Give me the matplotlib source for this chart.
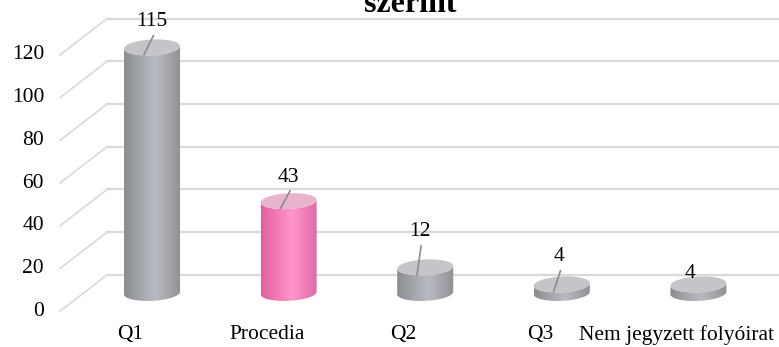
import numpy as np
import matplotlib.pyplot as plt
from matplotlib.path import Path
from matplotlib.patches import PathPatch
from matplotlib.colors import LinearSegmentedColormap

categories = ["Q1", "Procedia", "Q2", "Q3", "Nem jegyzett folyóirat"]
values = [115, 43, 12, 4, 4]
highlight = [False, True, False, False, False]
y_ticks = [0, 20, 40, 60, 80, 100, 120]

# label placement relative to the top of each cylinder (x in categories, y in values)
label_dx = [0.0, 0.0, -0.04, -0.02, -0.06]
label_dy = [12, 11.3, 16.6, 12.9, 4.9]

plt.rcParams['font.family'] = ['Liberation Serif', 'DejaVu Serif']

fig = plt.figure(figsize=(7.79, 3.47), dpi=100)
ax = fig.add_axes([0, 0, 1, 1])
ax.axis('off')

depth = 8.5        # half depth of the floor in value units
dx_back = -0.329   # x where back wall starts
dx_front = -0.673  # x where the front edge of the floor lines end
bar_w = 0.41
ell_h = 7.4
shear = 3.0
fs = 15.5

grid_c = '#d9d9d9'
for t in y_ticks:
    ax.plot([dx_front, dx_back], [t - depth, t + depth], color=grid_c, lw=1.2, zorder=1)
    ax.plot([dx_back, 4.59], [t + depth, t + depth], color=grid_c, lw=1.6, zorder=1)
    ax.text(-0.79, t - depth, str(t), ha='right', va='center', fontsize=fs)

gray_cmap = LinearSegmentedColormap.from_list(
    'gray_cyl', [(0, '#8a8c90'), (0.3, '#a4a7ad'), (0.55, '#b8bbc2'), (0.8, '#a2a4aa'), (1, '#8e9094')])
pink_cmap = LinearSegmentedColormap.from_list(
    'pink_cyl', [(0, '#df5f9c'), (0.3, '#f47db8'), (0.55, '#ff97cb'), (0.8, '#f17bb6'), (1, '#dd68a3')])

theta = np.linspace(np.pi, 2 * np.pi, 40)
full = np.linspace(0, 2 * np.pi, 80)

for i, (cat, v, hl) in enumerate(zip(categories, values, highlight)):
    rx = bar_w / 2
    ry = ell_h / 2
    # body outline: lower half of bottom ellipse, then lower half of top ellipse back
    bx = i + rx * np.cos(theta)
    by = ry * np.sin(theta) + shear * (bx - i)
    tx = (i + rx * np.cos(theta))[::-1]
    ty = v + ry * np.sin(theta)[::-1] + shear * (tx - i)
    verts = np.column_stack([np.concatenate([bx, tx]), np.concatenate([by, ty])])
    verts = np.vstack([verts, verts[:1]])
    codes = [Path.MOVETO] + [Path.LINETO] * (len(verts) - 2) + [Path.CLOSEPOLY]
    body = PathPatch(Path(verts, codes), facecolor='none', edgecolor='none')
    ax.add_patch(body)
    grad = np.linspace(0, 1, 256).reshape(1, -1)
    im = ax.imshow(grad, cmap=pink_cmap if hl else gray_cmap, aspect='auto',
                   extent=[i - rx, i + rx, -ry - shear * rx, v + ry + shear * rx],
                   zorder=3, interpolation='bilinear')
    im.set_clip_path(body)

    # top cap
    cx = i + rx * np.cos(full)
    cy = v + ry * np.sin(full) + shear * (cx - i)
    ax.fill(cx, cy, color='#e8b4cd' if hl else '#c4c5c8', zorder=4, lw=0)

    # data label with leader line
    lx = i + label_dx[i]
    ly = v + label_dy[i]
    ax.text(lx, ly, str(v), ha='center', va='center', fontsize=fs, zorder=6)
    if label_dy[i] > 8:
        ax.plot([lx + 0.01, i - 0.06], [ly - 6.5, v - 3.5], color='#8c8c8c', lw=1.2, zorder=5)

    ax.text(i - 0.16, -19.5, cat, ha='center', va='center', fontsize=fs)

ax.set_xlim(-1.113, 4.59)
ax.set_ylim(-25.3, 137.2)

fig.text(410 / 779, 1 - 12 / 347, 'szerint', ha='center', va='baseline',
         fontsize=23, fontweight='bold')

fig.savefig('out.png', dpi=100)
